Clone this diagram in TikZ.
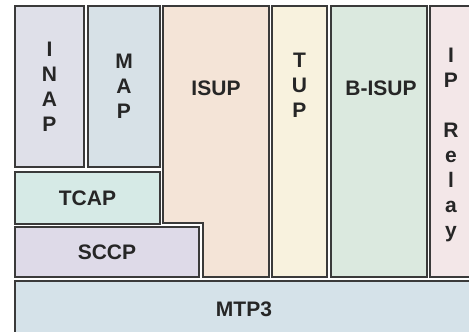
\documentclass[tikz,border=0pt]{standalone}
\usepackage{fontspec}
\setmainfont{Liberation Sans}
\definecolor{cINAP}{HTML}{DFE0E9}
\definecolor{cMAP}{HTML}{D7E1E7}
\definecolor{cISUP}{HTML}{F4E4D7}
\definecolor{cTUP}{HTML}{F8F2DE}
\definecolor{cBISUP}{HTML}{DBE9DF}
\definecolor{cIPR}{HTML}{F3E7E8}
\definecolor{cTCAP}{HTML}{D6EAE6}
\definecolor{cSCCP}{HTML}{DEDAE8}
\definecolor{cMTP}{HTML}{D5E2E9}
\definecolor{edge}{HTML}{3A3A3A}
\begin{document}
\begin{tikzpicture}[x=1pt,y=-1pt,
  layer/.style={draw=edge,line width=1.1pt},
  lbl/.style={font=\bfseries\fontsize{21}{25}\selectfont,text=black!85,align=center,inner sep=0pt}]
\useasboundingbox (0,0) rectangle (469,332);
\clip (0,0) rectangle (469,332);
\fill[white] (0,0) rectangle (469,332);
\path[layer,fill=cINAP] (15,6) rectangle (84,167);
\path[layer,fill=cMAP] (88,6) rectangle (160,167);
\path[layer,fill=cISUP] (163,6) -- (269,6) -- (269,277) -- (203,277) -- (203,223) -- (163,223) -- cycle;
\path[layer,fill=cTUP] (272,6) rectangle (327,277);
\path[layer,fill=cBISUP] (331,6) rectangle (427,277);
\path[layer,fill=cIPR] (430,6) rectangle (474,277);
\path[layer,fill=cTCAP] (15,172) rectangle (160,224);
\path[layer,fill=cSCCP] (15,227) rectangle (199,277);
\path[layer,fill=cMTP] (15,281) rectangle (474,340);
\node[lbl] (inap) at (49.5,87) {I\\N\\A\\P};
\node[lbl] (map) at (124,86) {M\\A\\P};
\node[lbl] (isup) at (216,88) {ISUP};
\node[lbl] (tup) at (299.5,85) {T\\U\\P};
\node[lbl] (bisup) at (381,88) {B-ISUP};
\node[lbl,anchor=north] (iprelay) at (451,48) {I\\P\\\strut\\R\\e\\l\\a\\y};
\node[lbl] (tcap) at (87.5,198) {TCAP};
\node[lbl] (sccp) at (107,252) {SCCP};
\node[lbl] (mtp) at (244,309) {MTP3};
\end{tikzpicture}
\end{document}
